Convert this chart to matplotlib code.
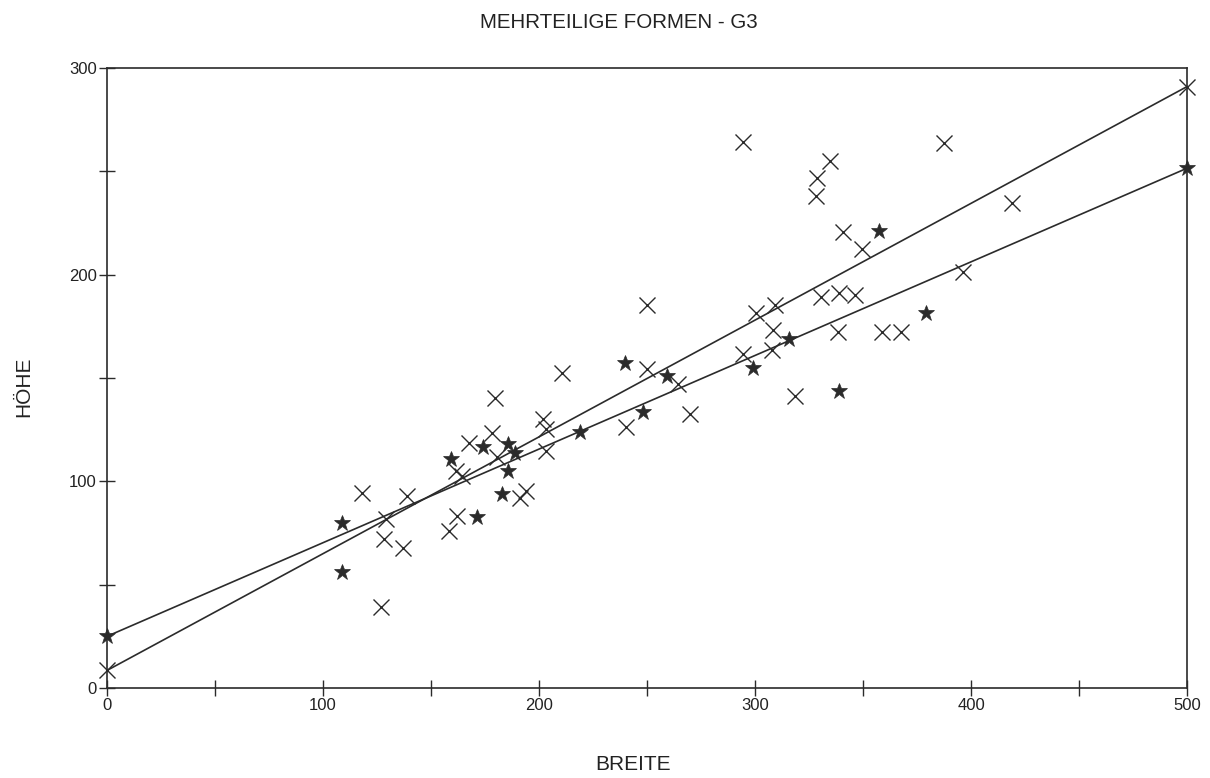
import matplotlib
matplotlib.use("Agg")
import matplotlib.pyplot as plt
import numpy as np

plt.rcParams['font.family'] = ['Liberation Sans', 'DejaVu Sans']

title = "MEHRTEILIGE FORMEN - G3"
x_label = "BREITE"
y_label = "HÖHE"

x_ticks = [0, 100, 200, 300, 400, 500]
y_ticks = [0, 100, 200, 300]

# Series 1: crosses (Breite, Höhe)
cross_x = [118.2, 128.4, 129.2, 126.9, 136.9, 138.7, 158.5, 161.9, 161.6, 164.2,
           167.7, 178.2, 179.8, 180.4, 191.2, 193.8, 202.0, 203.1, 203.1, 210.6,
           240.3, 250.2, 250.0, 264.5, 269.9, 294.3, 334.7, 328.5, 328.2, 387.5,
           340.6, 349.5, 396.1, 330.4, 339.0, 346.3, 300.5, 309.3, 308.5, 338.6,
           358.9, 367.6, 294.6, 307.7, 318.5, 418.8]
cross_y = [94.2, 72.1, 81.6, 39.3, 67.9, 93.1, 76.0, 83.4, 105.2, 102.6,
           118.7, 123.5, 140.5, 111.6, 91.8, 95.1, 130.0, 125.3, 114.8, 152.3,
           126.1, 154.5, 185.3, 147.1, 132.4, 264.0, 254.8, 246.8, 238.1, 263.9,
           220.6, 212.3, 201.5, 189.4, 191.0, 190.2, 181.3, 185.3, 173.2, 172.4,
           172.1, 172.1, 161.5, 163.5, 141.3, 234.5]

# Series 2: stars
star_x = [108.9, 108.9, 159.3, 171.1, 173.9, 185.5, 188.9, 185.5, 182.7, 219.1,
          239.8, 248.0, 259.1, 299.2, 315.9, 339.0, 357.4, 379.0]
star_y = [80.0, 56.3, 110.8, 82.9, 116.5, 117.9, 113.9, 104.8, 93.9, 123.7,
          157.4, 133.4, 151.1, 154.7, 168.9, 143.9, 221.1, 181.6]

# Regression lines (intercept, slope)
cross_line = (8.5, 0.565)
star_line = (25.0, 0.453)
line_x = [0, 500]

color = "#2b2b2b"

fig = plt.figure(figsize=(12.10, 7.78), dpi=100)
ax = fig.add_axes([107/1210, 1 - 688/778, 1080/1210, 620/778])

ax.plot(cross_x, cross_y, linestyle='none', marker='x', ms=11, mew=1.0, color=color)
ax.plot(star_x, star_y, linestyle='none', marker='*', ms=12, mew=0.5, color=color)

lx = np.array(line_x, dtype=float)
ax.plot(lx, cross_line[0] + cross_line[1] * lx, color=color, lw=1.2,
        marker='x', ms=11, mew=1.0, clip_on=False)
ax.plot(lx, star_line[0] + star_line[1] * lx, color=color, lw=1.2,
        marker='*', ms=12, mew=0.5, clip_on=False)

ax.set_xlim(0, 500)
ax.set_ylim(0, 300)
ax.set_xticks(x_ticks)
ax.set_yticks(y_ticks)
ax.set_xticks(np.arange(50, 500, 100), minor=True)
ax.set_yticks(np.arange(50, 300, 100), minor=True)
ax.tick_params(which='both', direction='inout', length=11, width=1.0, color=color,
               labelsize=12, labelcolor='#222222', pad=2)
ax.tick_params(which='both', top=False, right=False)
for s in ax.spines.values():
    s.set_color(color)
    s.set_linewidth(1.2)

fig.text(619/1210, 1 - 22/778, title, ha='center', va='center', fontsize=14.8, color='#222222')
fig.text(633/1210, 1 - 765/778, x_label, ha='center', va='center', fontsize=15, color='#222222')
fig.text(24/1210, 1 - 387/778, y_label, ha='center', va='center', rotation=90, fontsize=15, color='#222222')

fig.savefig("out.png", dpi=100)
